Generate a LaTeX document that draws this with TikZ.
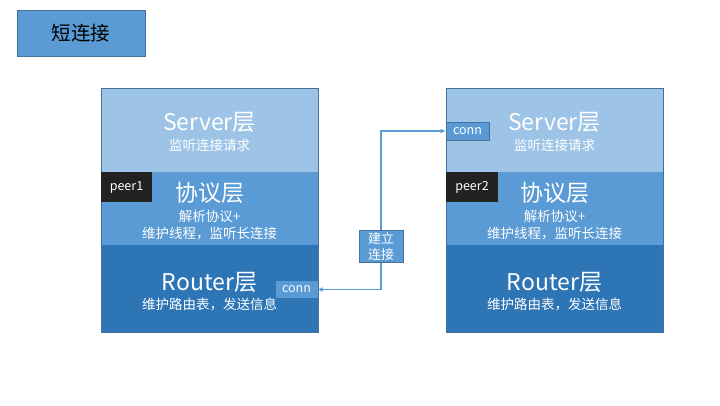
\documentclass[tikz,border=0pt]{standalone}
\usepackage{fontspec}
\setmainfont{Noto Sans CJK SC}
\usetikzlibrary{arrows.meta}
\definecolor{lay1}{HTML}{9DC3E6}
\definecolor{lay2}{HTML}{5B9BD5}
\definecolor{lay3}{HTML}{2E75B6}
\definecolor{edge}{HTML}{41719C}
\definecolor{dark}{HTML}{222222}
\tikzset{
  layer/.style={rectangle, inner sep=0pt, minimum width=217pt},
  big/.style={text=white, font=\fontsize{23}{26}\selectfont, inner sep=0pt},
  small/.style={text=white, font=\fontsize{13.5}{17}\selectfont, inner sep=0pt, align=center},
  tag/.style={rectangle, inner sep=0pt, text=white, font=\fontsize{12.5}{14}\selectfont},
  link/.style={draw=lay2, line width=1.3pt, {Latex[length=5pt,width=5pt]}-{Latex[length=5pt,width=5pt]}},
}
\begin{document}
\begin{tikzpicture}[x=1pt,y=-1pt]
\useasboundingbox (0,0) rectangle (720,405);
% title
\node[draw=edge, fill=lay2, line width=0.8pt, minimum width=128pt, minimum height=46pt, inner sep=0pt,
      font=\fontsize{19.5}{22}\selectfont] (title) at (81,33) {短连接};
% left stack
\node[layer, fill=lay1, minimum height=84pt] (s1) at (209.5,130) {};
\node[layer, fill=lay2, minimum height=73pt] (p1) at (209.5,208.5) {};
\node[layer, fill=lay3, minimum height=87pt] (r1) at (209.5,288.5) {};
\draw[edge, line width=0.6pt] (s1.north west) rectangle (r1.south east);
\node[big] (s1t) at (209.5,122) {Server层};
\node[small] (s1s) at (209.5,145) {监听连接请求};
\node[big] (p1t) at (209.5,193) {协议层};
\node[small] (p1s) at (209.5,225) {解析协议+\\维护线程，监听长连接};
\node[big] (r1t) at (209.5,282) {Router层};
\node[small] (r1s) at (209.5,304) {维护路由表，发送信息};
\node[tag, fill=dark, minimum width=51pt, minimum height=30pt] (peer1) at (126.5,187) {peer1};
\node[tag, fill=lay2, text=white!90!lay1, minimum width=42pt, minimum height=17pt] (conn1) at (296.5,289.5) {conn};
% right stack
\node[layer, fill=lay1, minimum height=84pt] (s2) at (554.5,130) {};
\node[layer, fill=lay2, minimum height=73pt] (p2) at (554.5,208.5) {};
\node[layer, fill=lay3, minimum height=87pt] (r2) at (554.5,288.5) {};
\draw[edge, line width=0.6pt] (s2.north west) rectangle (r2.south east);
\node[big] (s2t) at (554.5,122) {Server层};
\node[small] (s2s) at (554.5,145) {监听连接请求};
\node[big] (p2t) at (554.5,193) {协议层};
\node[small] (p2s) at (554.5,225) {解析协议+\\维护线程，监听长连接};
\node[big] (r2t) at (554.5,282) {Router层};
\node[small] (r2s) at (554.5,304) {维护路由表，发送信息};
\node[tag, fill=dark, minimum width=52pt, minimum height=30pt] (peer2) at (472,187) {peer2};
\node[tag, draw=edge, line width=0.8pt, fill=lay2, minimum width=43pt, minimum height=18pt] (conn2) at (467.5,131) {conn};
% link
\coordinate (mid) at (381,246);
\draw[link] (conn1.east) -| (mid) |- (conn2.west);
\node[draw=edge, line width=0.8pt, fill=lay2, text=white, inner sep=0pt, minimum width=44pt, minimum height=32pt,
      align=center, font=\fontsize{13}{15.5}\selectfont] (lbl) at (381,246.5) {建立\\连接};
\end{tikzpicture}
\end{document}
